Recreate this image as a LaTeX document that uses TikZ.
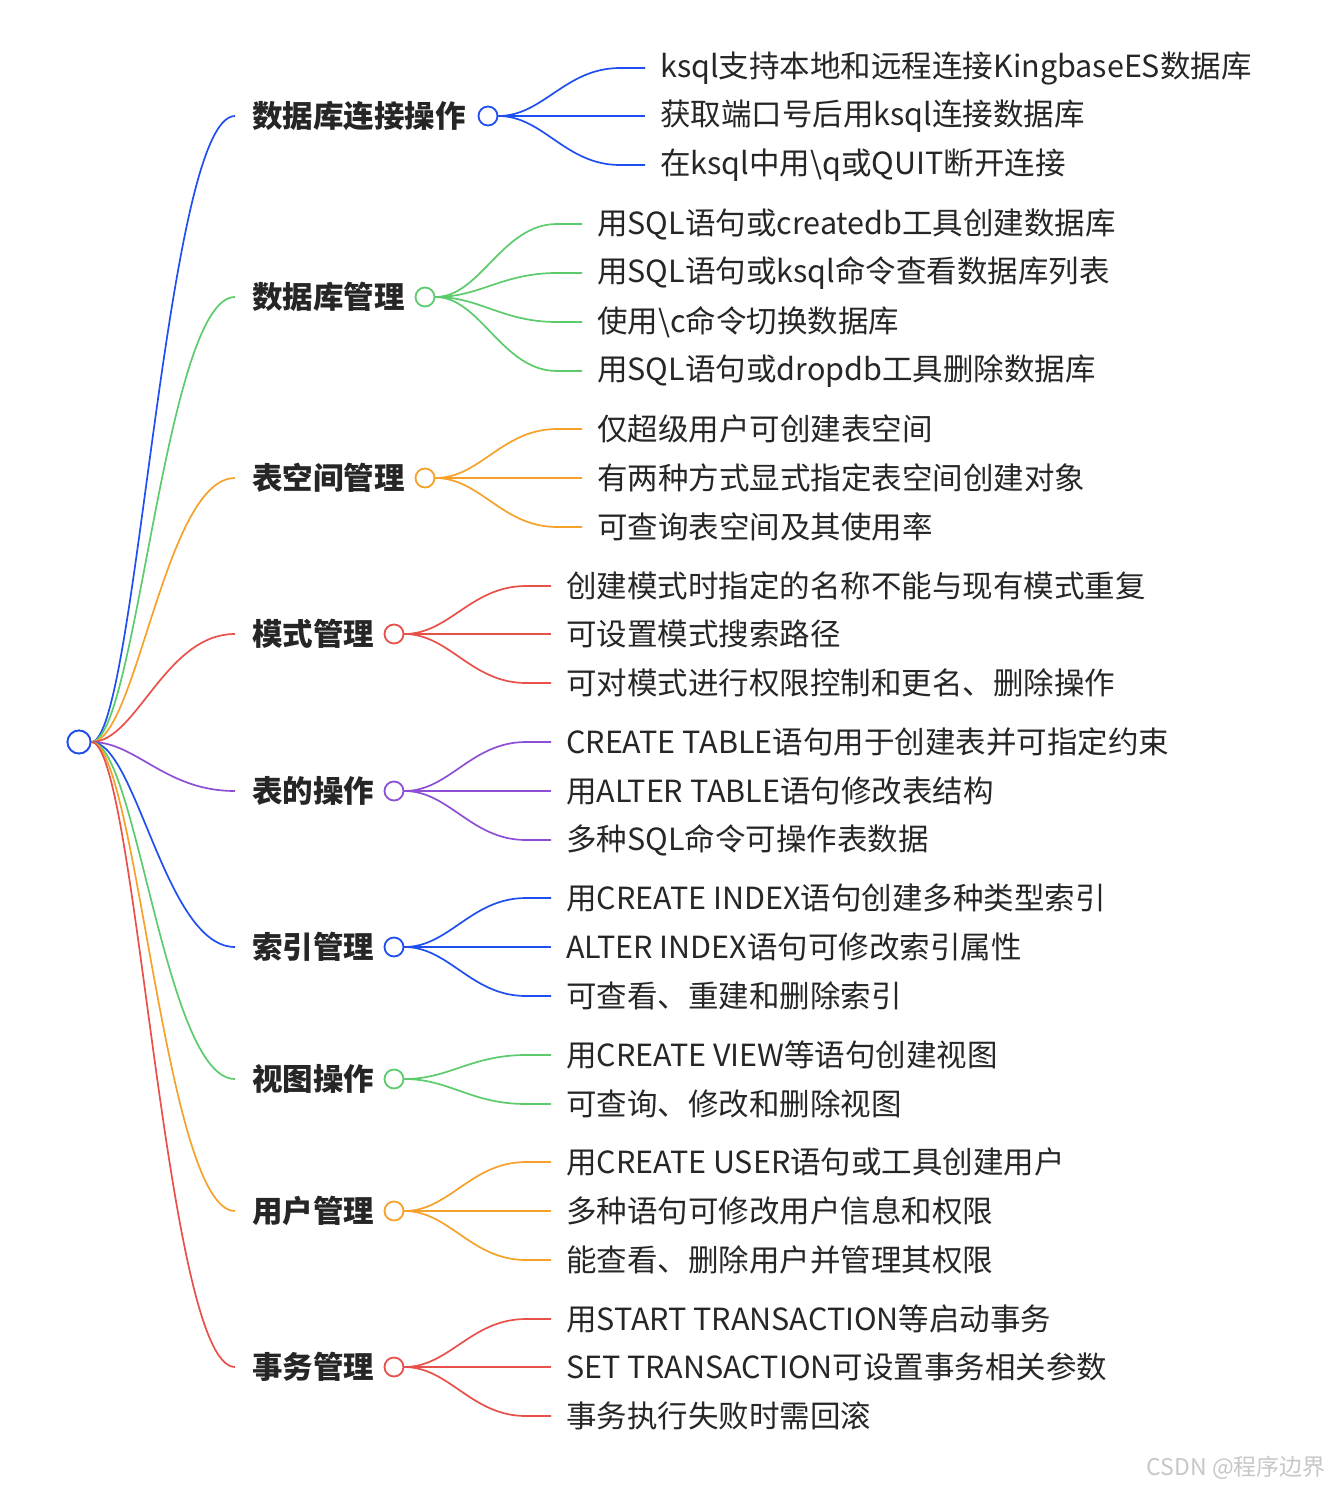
\documentclass[tikz,border=0pt]{standalone}
\usepackage{fontspec}
\setmainfont{Noto Sans CJK SC}
\usetikzlibrary{calc}
\definecolor{cblue}{HTML}{1F4FF0}
\definecolor{cgreen}{HTML}{5CCB6C}
\definecolor{corange}{HTML}{F5A12A}
\definecolor{cred}{HTML}{E8504A}
\definecolor{cpurple}{HTML}{8E4FD6}
\tikzset{
  lw/.style={line width=1.7pt},
  hub/.style={circle,draw=#1,line width=1.8pt,fill=white,minimum size=19pt,inner sep=0pt},
  lbl/.style={inner sep=0pt,font=\fontsize{30.5}{32}\selectfont\bfseries,text=black!85},
  leaf/.style={inner sep=0pt,font=\fontsize{30.5}{32}\selectfont,text=black!85},
}
\newcommand\mmbranch[6]{%
  \draw[#2,lw] (root.east) .. controls +(45,0) and +(-70,0) .. (235,#3);
  \node[hub=#2] (#1) at (#4,#3) {};
  \node[lbl,anchor=west] (#1l) at (252,#3) {#5};
  \foreach \yy/\txt [count=\i] in {#6} {
    \node[leaf,anchor=west] (#1c\i) at (#4+172,\yy) {\txt};
    \draw[#2,lw] (#1.east) .. controls +(45,0) and +(-55,0) .. ($(#1c\i.west)+(-40,0)$) -- ($(#1c\i.west)+(-15,0)$);
  }
}
\begin{document}
\begin{tikzpicture}[x=1pt,y=-1pt]
\useasboundingbox (0,0) rectangle (1332,1490);
\node[hub=cblue,minimum size=23pt] (root) at (79,742) {};
\mmbranch{b1}{cblue}{116}{488}{数据库连接操作}{68/ksql支持本地和远程连接KingbaseES数据库,116/获取端口号后用ksql连接数据库,165/在ksql中用\textbackslash q或QUIT断开连接}
\mmbranch{b2}{cgreen}{297}{425}{数据库管理}{224/用SQL语句或createdb工具创建数据库,273/用SQL语句或ksql命令查看数据库列表,322/使用\textbackslash c命令切换数据库,371/用SQL语句或dropdb工具删除数据库}
\mmbranch{b3}{corange}{478}{425}{表空间管理}{429/仅超级用户可创建表空间,478/有两种方式显式指定表空间创建对象,527/可查询表空间及其使用率}
\mmbranch{b4}{cred}{634}{394}{模式管理}{586/创建模式时指定的名称不能与现有模式重复,634/可设置模式搜索路径,683/可对模式进行权限控制和更名、删除操作}
\mmbranch{b5}{cpurple}{791}{394}{表的操作}{742/CREATE TABLE语句用于创建表并可指定约束,791/用ALTER TABLE语句修改表结构,840/多种SQL命令可操作表数据}
\mmbranch{b6}{cblue}{947}{394}{索引管理}{898/用CREATE INDEX语句创建多种类型索引,947/ALTER INDEX语句可修改索引属性,996/可查看、重建和删除索引}
\mmbranch{b7}{cgreen}{1079}{394}{视图操作}{1055/用CREATE VIEW等语句创建视图,1104/可查询、修改和删除视图}
\mmbranch{b8}{corange}{1211}{394}{用户管理}{1162/用CREATE USER语句或工具创建用户,1211/多种语句可修改用户信息和权限,1260/能查看、删除用户并管理其权限}
\mmbranch{b9}{cred}{1367}{394}{事务管理}{1319/用START TRANSACTION等启动事务,1367/SET TRANSACTION可设置事务相关参数,1416/事务执行失败时需回滚}
\node[hub=cblue,minimum size=23pt] at (root) {};
\node[inner sep=0pt,anchor=east,font=\fontsize{23}{24}\selectfont,text=black!22] (wm) at (1326,1468) {CSDN @程序边界};
\end{tikzpicture}
\end{document}
